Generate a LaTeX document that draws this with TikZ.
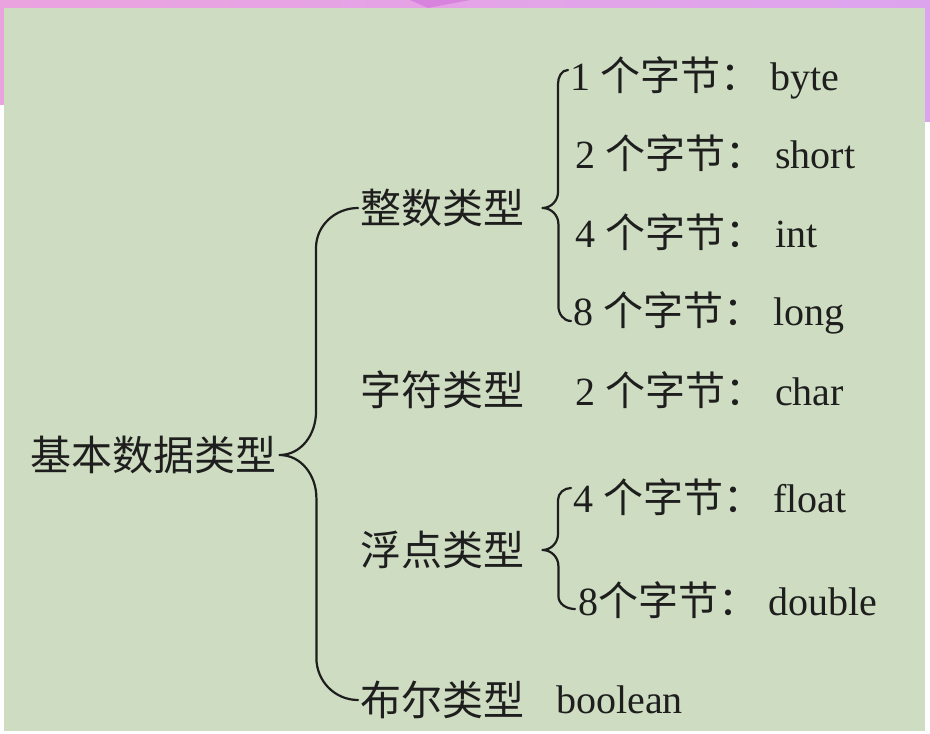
\documentclass[tikz,border=0pt]{standalone}
\usepackage{fontspec}
\setmainfont{Liberation Serif}
\newfontfamily\cjk{Noto Sans CJK SC}
\usetikzlibrary{calc}
\definecolor{paper}{HTML}{CEDDC1}
\definecolor{bandL}{HTML}{EBA3DF}
\definecolor{bandR}{HTML}{DDA4EE}
\definecolor{wedge}{HTML}{D884DE}
\definecolor{ink}{HTML}{1E1E1E}
\newcommand\zijie{{\cjk\fontsize{40}{46}\selectfont 个字节：}}
\begin{document}
\begin{tikzpicture}[x=1pt, y=1pt, line join=round, line cap=round,
    brace/.style={draw=ink, line width=2.2pt},
    head/.style={anchor=west, inner sep=0pt, text=ink, font=\cjk\fontsize{41}{48}\selectfont},
    leaf/.style={anchor=west, inner sep=0pt, text=ink, font=\fontsize{40}{46}\selectfont}]
  \useasboundingbox (0,0) rectangle (930,-734);
  % background
  \fill[white] (0,0) rectangle (930,-734);
  \shade[left color=bandL, right color=bandR] (0,0) rectangle (930,-8);
  \fill[bandL] (0,-8) rectangle (4,-105);
  \fill[bandR] (925,-8) rectangle (930,-122);
  \fill[wedge] (410,0) -- (470,0) -- (428,-8) -- cycle;
  \fill[paper] (4,-8) rectangle (925,-731);

  % types
  \node[head] (root) at (30,-455) {基本数据类型};
  \node[head] (zhengshu) at (360,-208) {整数类型};
  \node[head] (zifu) at (360,-390) {字符类型};
  \node[head] (fudian) at (360,-550) {浮点类型};
  \node[head] (buer) at (360,-700) {布尔类型};

  % sizes
  \node[leaf] (b1) at (570,-78) {1 \zijie~byte};
  \node[leaf] (b2) at (575,-153) {2 \zijie~short};
  \node[leaf] (b4) at (575,-232) {4 \zijie~int};
  \node[leaf] (b8) at (573,-313) {8 \zijie~long};
  \node[leaf] (chr) at (575,-390) {2 \zijie~char};
  \node[leaf] (f4) at (573,-497) {4 \zijie~float};
  \node[leaf] (f8) at (578,-600) {8\zijie~double};
  \node[leaf] (bool) at (556,-700) {boolean};

  % braces
  \draw[brace] ([xshift=-2pt]zhengshu.west) to[out=180,in=90] ++(-42,-40)
    -- ++(0,-164) to[out=-90,in=0] ([xshift=3pt]root.east)
    to[out=0,in=90] ++(37,-43) -- ++(0,-160)
    to[out=-90,in=180] ([xshift=-2pt]buer.west);
  \draw[brace] ([shift={(-2pt,8pt)}]b1.west) to[out=180,in=90] ++(-10,-14)
    -- ++(0,-108) to[out=-90,in=0] ([xshift=18pt]zhengshu.east)
    to[out=0,in=90] ++(16,-16) -- ++(0,-82)
    to[out=-90,in=180] ([shift={(-2pt,-8pt)}]b8.west);
  \draw[brace] ([shift={(-2pt,9pt)}]f4.west) to[out=180,in=90] ++(-13,-12)
    -- ++(0,-34) to[out=-90,in=0] ([xshift=18pt]fudian.east)
    to[out=0,in=90] ++(16,-16) -- ++(0,-30)
    to[out=-90,in=180] ([shift={(-3pt,-9pt)}]f8.west);
\end{tikzpicture}
\end{document}
